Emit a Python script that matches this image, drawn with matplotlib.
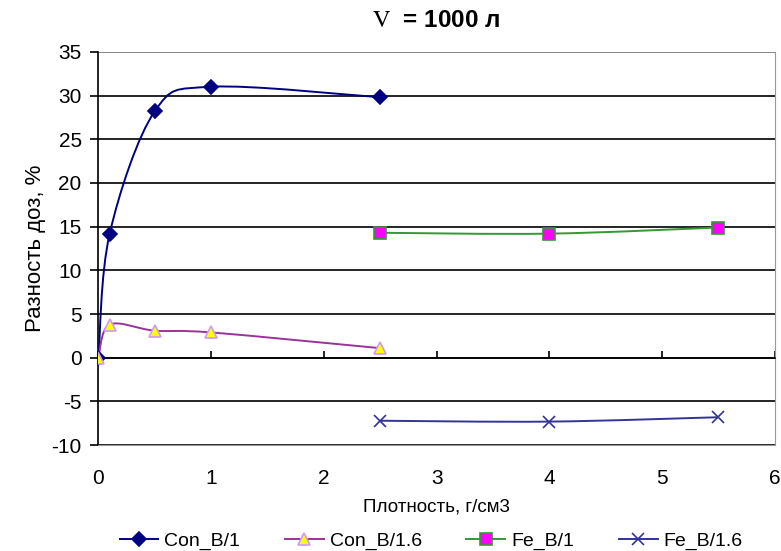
import numpy as np
import matplotlib.pyplot as plt
from matplotlib.path import Path
from matplotlib.patches import PathPatch
from matplotlib.lines import Line2D

plt.rcParams['font.family'] = ['Liberation Sans', 'DejaVu Sans']
plt.rcParams['mathtext.fontset'] = 'stix'
plt.rcParams['axes.unicode_minus'] = False

# данные (плотность, разность доз)
con_b1_x = [0, 0.1, 0.5, 1, 2.5]
con_b1_y = [0, 14.2, 28.2, 31.0, 29.8]
con_b16_x = [0, 0.1, 0.5, 1, 2.5]
con_b16_y = [0, 3.8, 3.1, 2.9, 1.1]
fe_b1_x = [2.5, 4, 5.5]
fe_b1_y = [14.3, 14.2, 14.9]
fe_b16_x = [2.5, 4, 5.5]
fe_b16_y = [-7.2, -7.3, -6.8]
x_ticks = [0, 1, 2, 3, 4, 5, 6]
y_ticks = [-10, -5, 0, 5, 10, 15, 20, 25, 30, 35]


def smooth_path(xs, ys):
    # сглаживание как в Excel (кривые Безье через точки)
    p = np.column_stack([xs, ys]).astype(float)
    n = len(p)
    verts = [p[0]]
    codes = [Path.MOVETO]
    for i in range(n - 1):
        p0 = p[i - 1] if i > 0 else p[i]
        p3 = p[i + 2] if i + 2 < n else p[i + 1]
        c1 = p[i] + (p[i + 1] - p0) / 6
        c2 = p[i + 1] - (p3 - p[i]) / 6
        verts += [c1, c2, p[i + 1]]
        codes += [Path.CURVE4] * 3
    return Path(verts, codes)


fig = plt.figure(figsize=(7.81, 5.51), dpi=100)
ax = fig.add_axes([0.126, 0.192, 0.866, 0.714])

series = [
    (con_b1_x, con_b1_y, "Con_B/1", "#000080", "D", "#000080", "#000080", 7),
    (con_b16_x, con_b16_y, "Con_B/1.6", "#993399", "^", "#FFFF00", "#CC99FF", 9),
    (fe_b1_x, fe_b1_y, "Fe_B/1", "#339933", "s", "#FF00FF", "#339933", 8),
    (fe_b16_x, fe_b16_y, "Fe_B/1.6", "#333399", "x", "#333399", "#333399", 8),
]
handles = []
for xs, ys, name, col, mk, fc, ec, ms in series:
    ax.add_patch(PathPatch(smooth_path(xs, ys), fill=False, edgecolor=col, lw=1.4, zorder=3))
    ax.plot(xs, ys, ls="none", marker=mk, ms=ms, mfc=fc, mec=ec, mew=1.2, zorder=4)
    handles.append(Line2D([], [], color=col, lw=1.4, marker=mk, ms=ms, mfc=fc, mec=ec, mew=1.2))

ax.set_xlim(0, 6)
ax.set_ylim(-10, 35)
ax.set_xticks(x_ticks)
ax.set_yticks(y_ticks)
ax.yaxis.grid(True, color="black", lw=1.2)
ax.set_axisbelow(True)

# ось X проходит через 0, подписи внизу
ax.spines["top"].set_position(("data", 0))
ax.spines["top"].set_color("black")
ax.spines["top"].set_linewidth(1.2)
ax.spines["left"].set_color("black")
ax.spines["left"].set_linewidth(1.2)
ax.spines["right"].set_color("#999999")
ax.spines["bottom"].set_color("#999999")
ax.add_line(Line2D([0, 1], [1, 1], transform=ax.transAxes, color="#999999", lw=1.2, zorder=2))
ax.tick_params(axis="x", top=True, bottom=False, labeltop=False, labelbottom=True,
               direction="out", length=5, width=1.2, pad=12, labelsize=15)
ax.tick_params(axis="y", direction="out", length=6, width=1.2, labelsize=15, pad=6)

ax.set_xlabel("Плотность, г/см3", fontsize=13.5, labelpad=8)
ax.set_ylabel("Разность доз, %", fontsize=16, labelpad=4)
ax.set_title(r"$\mathrm{V}$  = 1000 л", fontsize=17.5, fontweight="bold", pad=18)

fig.legend(handles, [s[2] for s in series], loc="lower center", ncol=4,
           bbox_to_anchor=(0.552, -0.03), frameon=False, fontsize=14,
           handlelength=2.0, handletextpad=0.3, columnspacing=2.3)

fig.savefig("out.png", dpi=100)
